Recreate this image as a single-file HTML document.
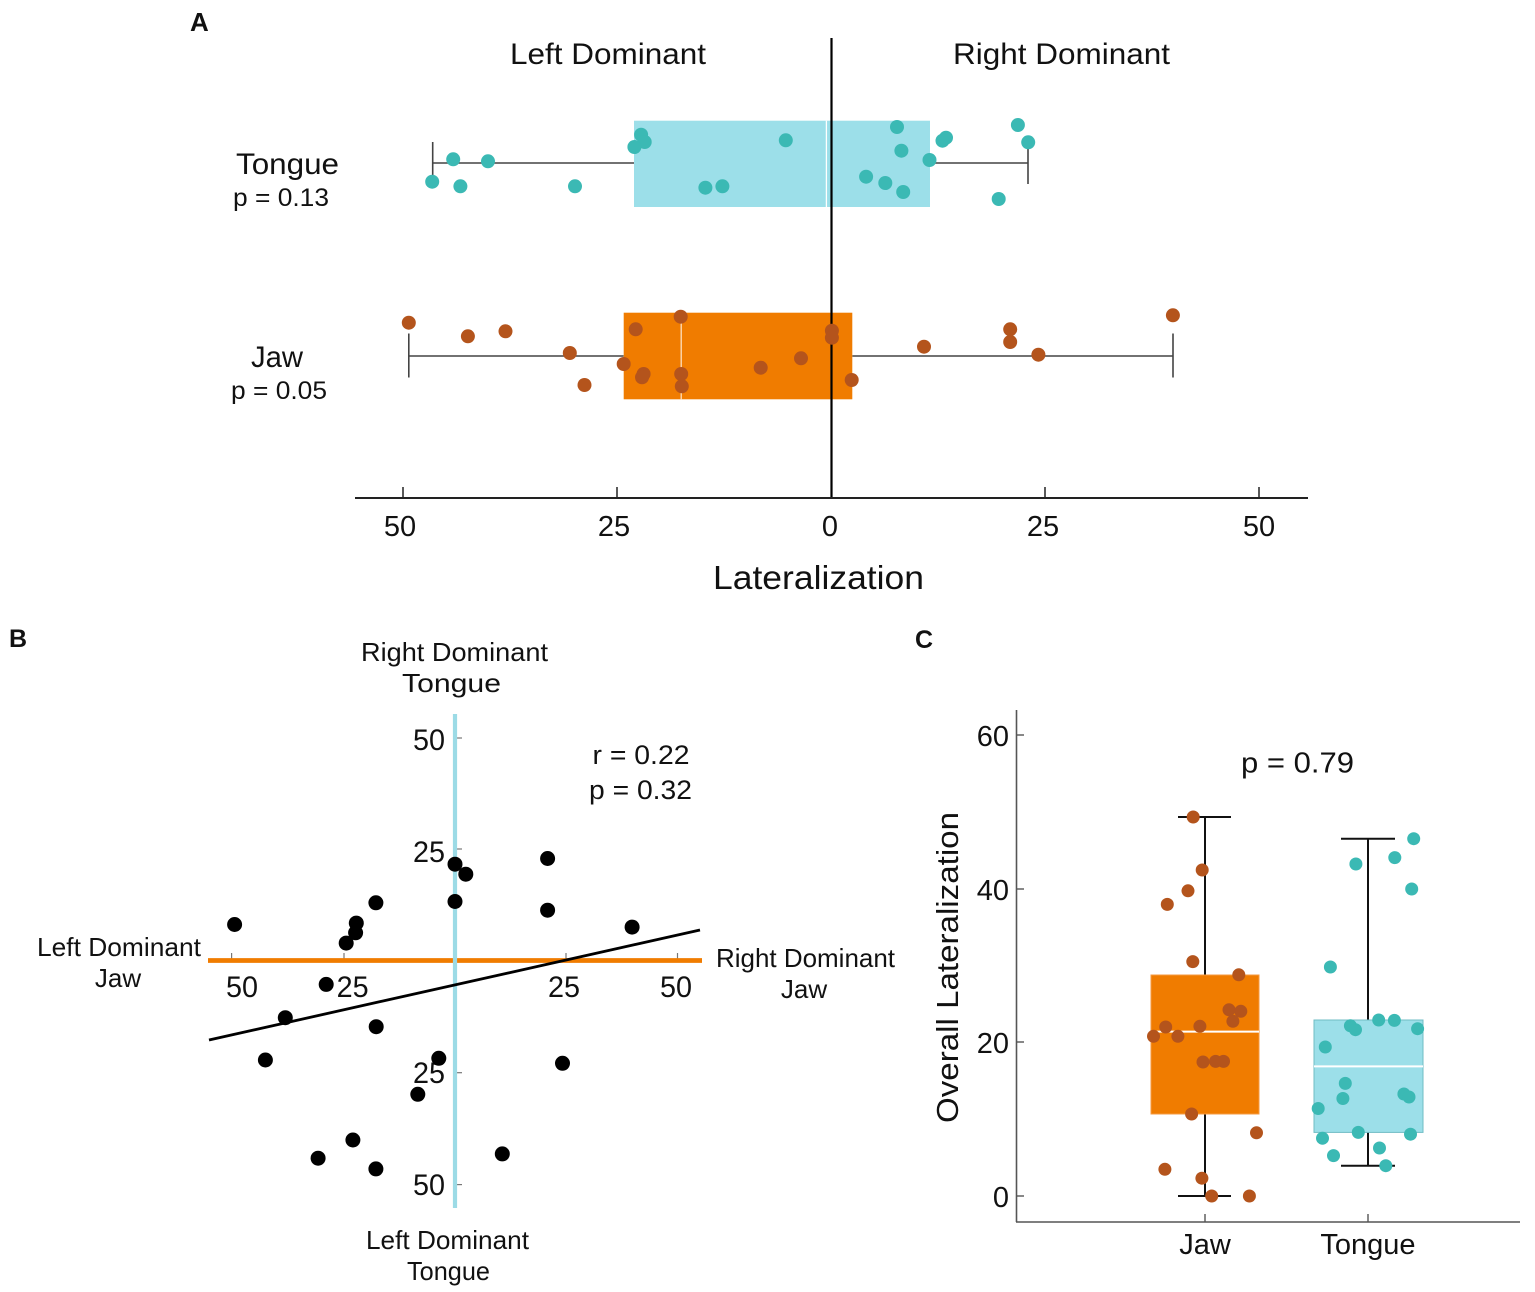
<!DOCTYPE html>
<html><head><meta charset="utf-8"><style>
html,body{margin:0;padding:0;background:#fff;}
svg{display:block;}
text{font-family:"Liberation Sans",sans-serif;fill:#111;}
</style></head><body>
<svg width="1535" height="1292" viewBox="0 0 1535 1292" xmlns="http://www.w3.org/2000/svg">
<rect width="1535" height="1292" fill="#fff"/>

<!-- ========== PANEL A ========== -->
<text x="190" y="31" font-size="26" font-weight="bold">A</text>
<text x="510" y="64" font-size="30" textLength="196" lengthAdjust="spacingAndGlyphs">Left Dominant</text>
<text x="953" y="64" font-size="30" textLength="217" lengthAdjust="spacingAndGlyphs">Right Dominant</text>

<text x="236" y="174" font-size="30" textLength="103" lengthAdjust="spacingAndGlyphs">Tongue</text>
<text x="233" y="206" font-size="25" textLength="96" lengthAdjust="spacingAndGlyphs">p = 0.13</text>
<text x="251" y="367" font-size="30" textLength="52" lengthAdjust="spacingAndGlyphs">Jaw</text>
<text x="231" y="399" font-size="25" textLength="96" lengthAdjust="spacingAndGlyphs">p = 0.05</text>

<!-- Tongue box -->
<line x1="432.7" y1="163" x2="634" y2="163" stroke="#444" stroke-width="1.6"/>
<line x1="930" y1="163" x2="1028" y2="163" stroke="#444" stroke-width="1.6"/>
<line x1="432.7" y1="142" x2="432.7" y2="184" stroke="#444" stroke-width="1.6"/>
<line x1="1028" y1="142" x2="1028" y2="184" stroke="#444" stroke-width="1.6"/>
<rect x="634" y="120.7" width="296" height="86.3" fill="#9cdfe9"/>

<!-- Jaw box -->
<line x1="408.8" y1="356" x2="623.7" y2="356" stroke="#444" stroke-width="1.6"/>
<line x1="852.3" y1="356" x2="1173" y2="356" stroke="#444" stroke-width="1.6"/>
<line x1="408.8" y1="333.5" x2="408.8" y2="377.5" stroke="#444" stroke-width="1.6"/>
<line x1="1173" y1="333.5" x2="1173" y2="377.5" stroke="#444" stroke-width="1.6"/>
<rect x="623.7" y="312.7" width="228.6" height="86.6" fill="#f07c00"/>

<!-- center line -->
<line x1="831.5" y1="38" x2="831.5" y2="498" stroke="#000" stroke-width="2.2"/>
<!-- medians -->
<line x1="826.4" y1="120.7" x2="826.4" y2="207" stroke="#fff" stroke-width="1.3"/>
<line x1="681.2" y1="312.7" x2="681.2" y2="399.3" stroke="#fde0c0" stroke-width="1.3"/>

<!-- tongue dots -->
<g fill="#3bb9b4">
<circle cx="432.2" cy="181.7" r="7"/><circle cx="453.2" cy="159.3" r="7"/><circle cx="460.4" cy="186.3" r="7"/>
<circle cx="488" cy="161.3" r="7"/><circle cx="575" cy="186.3" r="7"/><circle cx="641.1" cy="134.7" r="7"/>
<circle cx="644.7" cy="142" r="7"/><circle cx="634.4" cy="147" r="7"/><circle cx="785.8" cy="140.3" r="7"/>
<circle cx="705.4" cy="187.7" r="7"/><circle cx="722.4" cy="186.3" r="7"/><circle cx="897" cy="127" r="7"/>
<circle cx="901.4" cy="150.7" r="7"/><circle cx="866.1" cy="176.7" r="7"/><circle cx="885.3" cy="183" r="7"/>
<circle cx="903.2" cy="192" r="7"/><circle cx="929.5" cy="160" r="7"/><circle cx="942.5" cy="140.7" r="7"/>
<circle cx="946" cy="137.7" r="7"/><circle cx="1017.9" cy="125" r="7"/><circle cx="1028.2" cy="142.3" r="7"/>
<circle cx="998.7" cy="199" r="7"/>
</g>
<!-- jaw dots -->
<g fill="#b4541c">
<circle cx="408.8" cy="322.7" r="7"/><circle cx="467.9" cy="336.3" r="7"/><circle cx="505.5" cy="331.3" r="7"/>
<circle cx="569.8" cy="353" r="7"/><circle cx="584.5" cy="385" r="7"/><circle cx="635.7" cy="329.3" r="7"/>
<circle cx="623.7" cy="364" r="7"/><circle cx="643.6" cy="374" r="7"/><circle cx="642" cy="377.3" r="7"/>
<circle cx="680.7" cy="316.7" r="7"/><circle cx="681.2" cy="374" r="7"/><circle cx="681.8" cy="386.3" r="7"/>
<circle cx="760.7" cy="367.7" r="7"/><circle cx="801" cy="358.3" r="7"/><circle cx="831.9" cy="330.7" r="7"/>
<circle cx="831.9" cy="337.7" r="7"/><circle cx="851.7" cy="380" r="7"/><circle cx="924" cy="346.7" r="7"/>
<circle cx="1010.2" cy="329.3" r="7"/><circle cx="1010.2" cy="342" r="7"/><circle cx="1038.4" cy="354.7" r="7"/>
<circle cx="1172.9" cy="315.3" r="7"/>
</g>

<!-- A axis -->
<line x1="355" y1="498" x2="1308" y2="498" stroke="#222" stroke-width="2"/>
<g stroke="#222" stroke-width="1.5">
<line x1="403" y1="487" x2="403" y2="498"/><line x1="617" y1="487" x2="617" y2="498"/>
<line x1="1045" y1="487" x2="1045" y2="498"/><line x1="1259" y1="487" x2="1259" y2="498"/>
</g>
<g font-size="29" text-anchor="middle">
<text x="400" y="536">50</text><text x="614" y="536">25</text><text x="830" y="536">0</text>
<text x="1043" y="536">25</text><text x="1259" y="536">50</text>
</g>
<text x="713" y="589" font-size="33" textLength="211" lengthAdjust="spacingAndGlyphs">Lateralization</text>

<!-- ========== PANEL B ========== -->
<text x="9" y="647" font-size="25" font-weight="bold">B</text>
<text x="361" y="661" font-size="26" textLength="187" lengthAdjust="spacingAndGlyphs">Right Dominant</text>
<text x="402" y="692" font-size="26" textLength="99" lengthAdjust="spacingAndGlyphs">Tongue</text>
<text x="37" y="956" font-size="26" textLength="164" lengthAdjust="spacingAndGlyphs">Left Dominant</text>
<text x="118" y="987" font-size="26" text-anchor="middle">Jaw</text>
<text x="716" y="967" font-size="26" textLength="179" lengthAdjust="spacingAndGlyphs">Right Dominant</text>
<text x="804" y="998" font-size="26" text-anchor="middle">Jaw</text>
<text x="366" y="1249" font-size="26" textLength="163" lengthAdjust="spacingAndGlyphs">Left Dominant</text>
<text x="407" y="1280" font-size="26" textLength="83" lengthAdjust="spacingAndGlyphs">Tongue</text>

<!-- ticks -->
<g stroke="#777" stroke-width="1.2">
<line x1="231.6" y1="953" x2="231.6" y2="960"/><line x1="344" y1="953" x2="344" y2="960"/>
<line x1="566" y1="953" x2="566" y2="960"/><line x1="677.5" y1="953" x2="677.5" y2="960"/>
<line x1="456" y1="738" x2="462" y2="738"/><line x1="456" y1="849" x2="462" y2="849"/>
<line x1="456" y1="1072.7" x2="462" y2="1072.7"/><line x1="456" y1="1184.6" x2="462" y2="1184.6"/>
</g>
<line x1="208" y1="960.5" x2="702" y2="960.5" stroke="#f07c00" stroke-width="4.8"/>
<line x1="455" y1="714" x2="455" y2="1208" stroke="#9cdbe6" stroke-width="4.2"/>
<line x1="209" y1="1040" x2="700" y2="930" stroke="#000" stroke-width="2.8"/>

<g font-size="30" text-anchor="middle">
<text x="242" y="997" textLength="32" lengthAdjust="spacingAndGlyphs">50</text><text x="352.6" y="997" textLength="32" lengthAdjust="spacingAndGlyphs">25</text>
<text x="564" y="997" textLength="32" lengthAdjust="spacingAndGlyphs">25</text><text x="676" y="997" textLength="32" lengthAdjust="spacingAndGlyphs">50</text>
</g>
<g font-size="30">
<text x="413" y="750" textLength="32" lengthAdjust="spacingAndGlyphs">50</text><text x="413" y="862" textLength="32" lengthAdjust="spacingAndGlyphs">25</text>
<text x="413" y="1083" textLength="32" lengthAdjust="spacingAndGlyphs">25</text><text x="413" y="1195" textLength="32" lengthAdjust="spacingAndGlyphs">50</text>
</g>
<text x="592.5" y="764" font-size="27" textLength="97" lengthAdjust="spacingAndGlyphs">r = 0.22</text>
<text x="589" y="799" font-size="27" textLength="103" lengthAdjust="spacingAndGlyphs">p = 0.32</text>

<g fill="#000">
<circle cx="234.6" cy="924.5" r="7.5"/><circle cx="326.2" cy="984.4" r="7.5"/><circle cx="285.3" cy="1017.7" r="7.5"/>
<circle cx="265.4" cy="1060" r="7.5"/><circle cx="375.9" cy="902.8" r="7.5"/><circle cx="356.3" cy="923.1" r="7.5"/>
<circle cx="355.6" cy="932.8" r="7.5"/><circle cx="346.2" cy="943.1" r="7.5"/><circle cx="376.2" cy="1026.7" r="7.5"/>
<circle cx="455" cy="864.2" r="7.5"/><circle cx="465.8" cy="874.2" r="7.5"/><circle cx="455" cy="901.5" r="7.5"/>
<circle cx="547.6" cy="858.5" r="7.5"/><circle cx="547.6" cy="910.2" r="7.5"/><circle cx="632.1" cy="927.1" r="7.5"/>
<circle cx="562.5" cy="1063.3" r="7.5"/><circle cx="438.8" cy="1058.3" r="7.5"/><circle cx="417.8" cy="1094.3" r="7.5"/>
<circle cx="352.9" cy="1140" r="7.5"/><circle cx="318.1" cy="1158.2" r="7.5"/><circle cx="375.9" cy="1168.9" r="7.5"/>
<circle cx="502.3" cy="1153.9" r="7.5"/>
</g>

<!-- ========== PANEL C ========== -->
<text x="915" y="648" font-size="25" font-weight="bold">C</text>
<line x1="1016.5" y1="710" x2="1016.5" y2="1222" stroke="#555" stroke-width="1.6"/>
<line x1="1016" y1="1222" x2="1520" y2="1222" stroke="#555" stroke-width="1.6"/>
<g stroke="#555" stroke-width="1.4">
<line x1="1016" y1="735" x2="1024" y2="735"/><line x1="1016" y1="889" x2="1024" y2="889"/>
<line x1="1016" y1="1042" x2="1024" y2="1042"/><line x1="1016" y1="1196" x2="1024" y2="1196"/>
<line x1="1205" y1="1214" x2="1205" y2="1222"/><line x1="1368" y1="1214" x2="1368" y2="1222"/>
</g>
<g font-size="29" text-anchor="end">
<text x="1009" y="746">60</text><text x="1009" y="900">40</text>
<text x="1009" y="1053">20</text><text x="1009" y="1207">0</text>
</g>
<g font-size="29" text-anchor="middle">
<text x="1205" y="1254">Jaw</text><text x="1368" y="1254">Tongue</text>
</g>
<text transform="translate(958,1123) rotate(-90)" font-size="31" textLength="311" lengthAdjust="spacingAndGlyphs">Overall Lateralization</text>
<text x="1241" y="772.5" font-size="29" textLength="113" lengthAdjust="spacingAndGlyphs">p = 0.79</text>

<!-- whiskers C -->
<g stroke="#111" stroke-width="2">
<line x1="1205" y1="817" x2="1205" y2="1196"/>
<line x1="1178" y1="817" x2="1231" y2="817"/>
<line x1="1178" y1="1196" x2="1231" y2="1196"/>
<line x1="1368" y1="838.7" x2="1368" y2="1165.7"/>
<line x1="1341" y1="838.7" x2="1395" y2="838.7"/>
<line x1="1341" y1="1165.7" x2="1395" y2="1165.7"/>
</g>
<rect x="1151" y="975" width="108" height="139" fill="#f07c00" stroke="#f59a40" stroke-width="1"/>
<rect x="1314" y="1020" width="109" height="112.4" fill="#9cdfe9" stroke="#6fbcc4" stroke-width="1"/>
<line x1="1151" y1="1031.6" x2="1259" y2="1031.6" stroke="#fff" stroke-width="2"/>
<line x1="1314" y1="1066.4" x2="1423" y2="1066.4" stroke="#fff" stroke-width="2"/>

<g fill="#b4541c">
<circle cx="1193.2" cy="817" r="6.5"/><circle cx="1202.2" cy="870" r="6.5"/><circle cx="1188" cy="890.8" r="6.5"/>
<circle cx="1167.3" cy="904.4" r="6.5"/><circle cx="1192.8" cy="961.6" r="6.5"/><circle cx="1238.8" cy="974.8" r="6.5"/>
<circle cx="1229" cy="1009.8" r="6.5"/><circle cx="1240.8" cy="1011.3" r="6.5"/><circle cx="1232.9" cy="1021.3" r="6.5"/>
<circle cx="1165.7" cy="1027" r="6.5"/><circle cx="1199.9" cy="1026.3" r="6.5"/><circle cx="1153.5" cy="1036.3" r="6.5"/>
<circle cx="1177.9" cy="1036.3" r="6.5"/><circle cx="1203" cy="1062" r="6.5"/><circle cx="1215.6" cy="1061.4" r="6.5"/>
<circle cx="1223.5" cy="1061.4" r="6.5"/><circle cx="1191.6" cy="1114" r="6.5"/><circle cx="1256.5" cy="1132.8" r="6.5"/>
<circle cx="1164.9" cy="1169.3" r="6.5"/><circle cx="1201.9" cy="1178.2" r="6.5"/><circle cx="1211.7" cy="1196" r="6.5"/>
<circle cx="1249.4" cy="1196" r="6.5"/>
</g>
<g fill="#3bb9b4">
<circle cx="1413.7" cy="838.7" r="6.5"/><circle cx="1394.8" cy="857.6" r="6.5"/><circle cx="1355.9" cy="864" r="6.5"/>
<circle cx="1411.7" cy="889" r="6.5"/><circle cx="1330.4" cy="967" r="6.5"/><circle cx="1378.7" cy="1020" r="6.5"/>
<circle cx="1394.4" cy="1020.4" r="6.5"/><circle cx="1350.4" cy="1025.8" r="6.5"/><circle cx="1355.5" cy="1029.7" r="6.5"/>
<circle cx="1417.6" cy="1028.7" r="6.5"/><circle cx="1325.3" cy="1047" r="6.5"/><circle cx="1345.3" cy="1083.4" r="6.5"/>
<circle cx="1342.9" cy="1098.5" r="6.5"/><circle cx="1403.9" cy="1094" r="6.5"/><circle cx="1409" cy="1097" r="6.5"/>
<circle cx="1318.2" cy="1108.5" r="6.5"/><circle cx="1322.5" cy="1138.2" r="6.5"/><circle cx="1358.3" cy="1132.4" r="6.5"/>
<circle cx="1410.5" cy="1134.2" r="6.5"/><circle cx="1379.5" cy="1148" r="6.5"/><circle cx="1333.5" cy="1155.6" r="6.5"/>
<circle cx="1385.8" cy="1165.7" r="6.5"/>
</g>
</svg>
</body></html>
